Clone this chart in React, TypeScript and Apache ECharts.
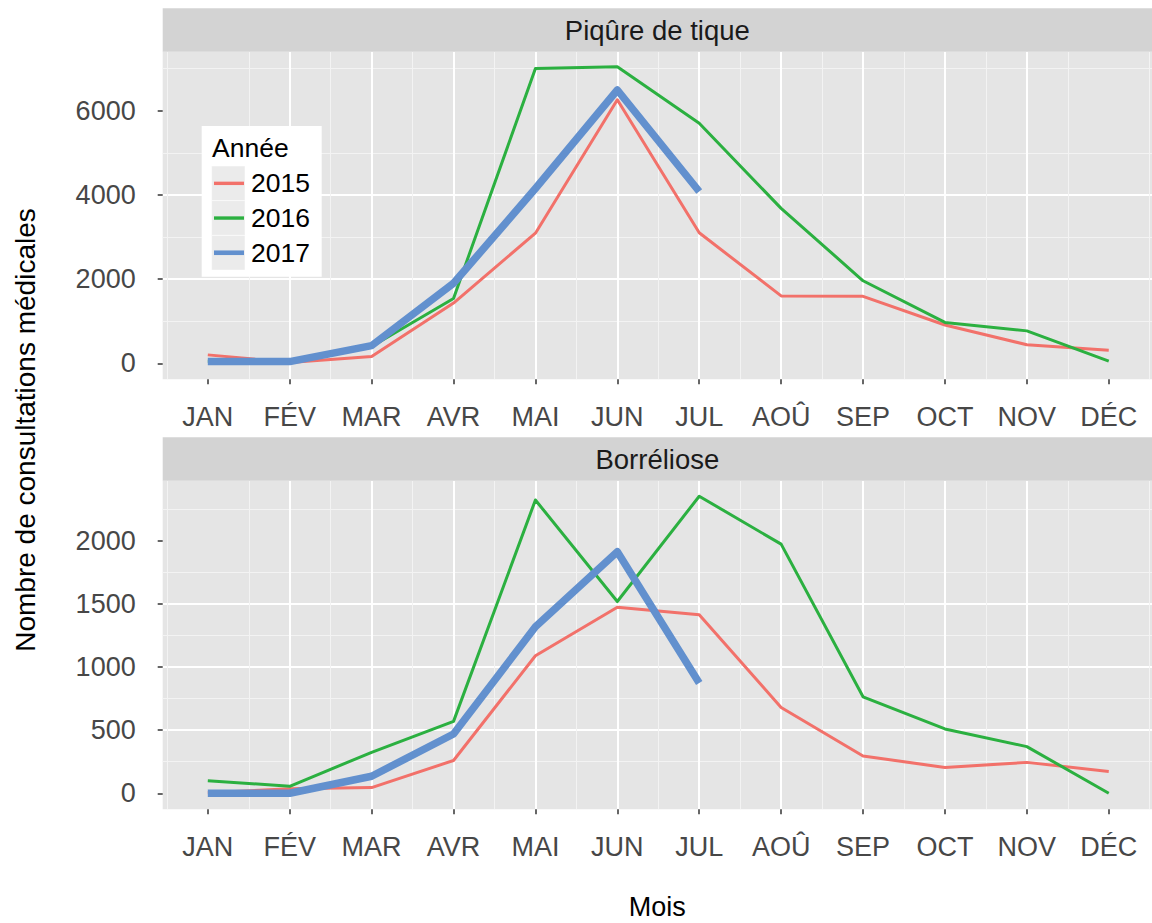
import { useEffect, useRef } from 'react';
import * as echarts from 'echarts';

const MONTHS = ['JAN', 'FÉV', 'MAR', 'AVR', 'MAI', 'JUN', 'JUL', 'AOÛ', 'SEP', 'OCT', 'NOV', 'DÉC'];
const MONTH_IDX = MONTHS.map((_, i) => i);
const YEARS = ['2015', '2016', '2017'];
const PANELS = ['Piqûre de tique', 'Borréliose'];

const TIQUE_2015 = [200, 20, 160, 1430, 3090, 6260, 3100, 1600, 1590, 910, 440, 310];
const TIQUE_2016 = [50, 40, 400, 1540, 7000, 7040, 5700, 3680, 1960, 970, 770, 50];
const TIQUE_2017 = [40, 40, 420, 1900, 4150, 6490, 4080];

const BORR_2015 = [5, 35, 45, 260, 1090, 1475, 1415, 680, 295, 205, 245, 172];
const BORR_2016 = [100, 55, 325, 570, 2325, 1520, 2355, 1975, 765, 510, 370, 0];
const BORR_2017 = [0, 0, 135, 470, 1320, 1915, 875];

const TIQUE_TICKS = [0, 2000, 4000, 6000];
const BORR_TICKS = [0, 500, 1000, 1500, 2000];

const Y_TITLE = 'Nombre de consultations médicales';
const X_TITLE = 'Mois';
const LEGEND_TITLE = 'Année';

const COLORS = ['#F2716A', '#2BB040', '#6290CE'];
const WIDTHS = [3, 3, 7.5];
const FONT = '"Liberation Sans", Arial, Helvetica, sans-serif';

export default function App() {
  const ref = useRef<HTMLDivElement>(null);
  useEffect(() => {
    if (!ref.current) return;
    const chart = echarts.init(ref.current, undefined, { renderer: 'svg' });

    const PL = 162.7;
    const PW = 1152 - PL;
    const grids = [
      { top: 51.7, height: 327.6 },
      { top: 480.7, height: 328.6 },
    ];
    const strips = [
      { y: 8.3, h: 43.4 },
      { y: 437.3, h: 43.4 },
    ];
    const yRanges = [
      { min: -380, max: 7400, ticks: TIQUE_TICKS },
      { min: -127, max: 2478, ticks: BORR_TICKS },
    ];
    const X_MIN = -0.5507;
    const X_MAX = 11.528;

    const gridOpt = grids.map((g) => ({
      left: PL,
      top: g.top,
      width: PW,
      height: g.height,
      show: true,
      backgroundColor: '#E5E5E5',
      borderWidth: 0,
    }));

    const xAxes = grids.map((_, gi) => ({
      type: 'value',
      gridIndex: gi,
      min: X_MIN,
      max: X_MAX,
      splitNumber: 12,
      axisLine: { show: false, onZero: false },
      axisTick: {
        show: true,
        customValues: MONTH_IDX,
        length: 5,
        lineStyle: { color: '#333333', width: 1.5 },
      },
      axisLabel: {
        customValues: MONTH_IDX,
        formatter: (v: number) => (Number.isInteger(v) && MONTHS[v] !== undefined ? MONTHS[v] : ''),
        fontSize: 27,
        color: '#474747',
        fontFamily: FONT,
        margin: 24,
      },
      splitLine: {
        show: true,
        showMinLine: false,
        showMaxLine: false,
        lineStyle: { color: '#FFFFFF', width: 2 },
      },
      minorTick: { show: false, splitNumber: 2 },
      minorSplitLine: { show: true, lineStyle: { color: '#F3F3F3', width: 1 } },
    }));

    const yAxes = yRanges.map((r, gi) => ({
      type: 'value',
      gridIndex: gi,
      position: 'left',
      min: r.min,
      max: r.max,
      axisLine: { show: false, onZero: false },
      axisTick: {
        show: true,
        customValues: r.ticks,
        length: 5,
        lineStyle: { color: '#333333', width: 1.5 },
      },
      axisLabel: {
        customValues: r.ticks,
        formatter: (v: number) => (r.ticks.includes(v) ? String(v) : ''),
        fontSize: 27,
        color: '#474747',
        fontFamily: FONT,
        margin: 27,
      },
      splitLine: {
        show: true,
        showMinLine: false,
        showMaxLine: false,
        lineStyle: { color: '#FFFFFF', width: 2 },
      },
      minorTick: { show: false, splitNumber: 2 },
      minorSplitLine: { show: true, lineStyle: { color: '#F3F3F3', width: 1 } },
    }));

    const panelData = [
      [TIQUE_2015, TIQUE_2016, TIQUE_2017],
      [BORR_2015, BORR_2016, BORR_2017],
    ];
    const series: any[] = [];
    panelData.forEach((sets, gi) => {
      sets.forEach((arr, yi) => {
        series.push({
          type: 'line',
          name: YEARS[yi],
          xAxisIndex: gi,
          yAxisIndex: gi,
          data: arr.map((v, i) => [i, v]),
          symbol: 'none',
          showSymbol: false,
          color: COLORS[yi],
          lineStyle: { color: COLORS[yi], width: WIDTHS[yi], cap: 'butt', join: 'round' },
          z: 2 + yi,
          silent: true,
        });
      });
    });

    const graphic: any[] = [];
    strips.forEach((s, i) => {
      graphic.push({
        type: 'rect',
        z: 1,
        shape: { x: PL, y: s.y, width: PW, height: s.h },
        style: { fill: '#D3D3D3' },
        silent: true,
      });
      graphic.push({
        type: 'text',
        z: 2,
        x: PL + PW / 2,
        y: s.y + s.h / 2,
        style: {
          text: PANELS[i],
          fontSize: 27.5,
          fontFamily: FONT,
          fill: '#1A1A1A',
          align: 'center',
          verticalAlign: 'middle',
        },
        silent: true,
      });
    });
    // legend box
    graphic.push({
      type: 'rect',
      z: 20,
      shape: { x: 201.7, y: 126, width: 120, height: 150.7 },
      style: { fill: '#FFFFFF' },
      silent: true,
    });
    graphic.push({
      type: 'text',
      z: 21,
      x: 212,
      y: 147.7,
      style: {
        text: LEGEND_TITLE,
        fontSize: 26.5,
        fontFamily: FONT,
        fill: '#000000',
        align: 'left',
        verticalAlign: 'middle',
      },
      silent: true,
    });
    YEARS.forEach((_, i) => {
      graphic.push({
        type: 'rect',
        z: 21,
        shape: { x: 211.7, y: 166 + i * 34.7, width: 33.3, height: 34.7 },
        style: { fill: '#EBEBEB', stroke: '#FFFFFF', lineWidth: 0.5 },
        silent: true,
      });
    });
    graphic.push({
      type: 'text',
      z: 5,
      x: 25,
      y: 430,
      rotation: Math.PI / 2,
      style: {
        text: Y_TITLE,
        fontSize: 28,
        fontFamily: FONT,
        fill: '#000000',
        align: 'center',
        verticalAlign: 'middle',
      },
      silent: true,
    });
    graphic.push({
      type: 'text',
      z: 5,
      x: PL + PW / 2,
      y: 907,
      style: {
        text: X_TITLE,
        fontSize: 27,
        fontFamily: FONT,
        fill: '#000000',
        align: 'center',
        verticalAlign: 'middle',
      },
      silent: true,
    });

    chart.setOption({
      animation: false,
      backgroundColor: '#FFFFFF',
      textStyle: { fontFamily: FONT },
      grid: gridOpt,
      xAxis: xAxes,
      yAxis: yAxes,
      series,
      legend: {
        show: true,
        orient: 'vertical',
        left: 214,
        top: 166,
        padding: 0,
        itemGap: 0,
        itemWidth: 30,
        itemHeight: 34.7,
        z: 30,
        selectedMode: false,
        data: YEARS.map((y, i) => ({
          name: y,
          icon: i === 2 ? 'path://M0,0H30V4.6H0Z' : 'path://M0,0H30V3.4H0Z',
          itemStyle: { color: COLORS[i] },
        })),
        textStyle: {
          fontSize: 26.5,
          lineHeight: 34.7,
          height: 34.7,
          color: '#000000',
          fontFamily: FONT,
          padding: [0, 0, 0, 2],
        },
      },
      graphic: { elements: graphic },
    });

    return () => chart.dispose();
  }, []);

  return (
    <div
      ref={ref}
      style={{ position: 'absolute', left: 0, top: 0, width: 1152, height: 923, background: '#fff' }}
    />
  );
}
